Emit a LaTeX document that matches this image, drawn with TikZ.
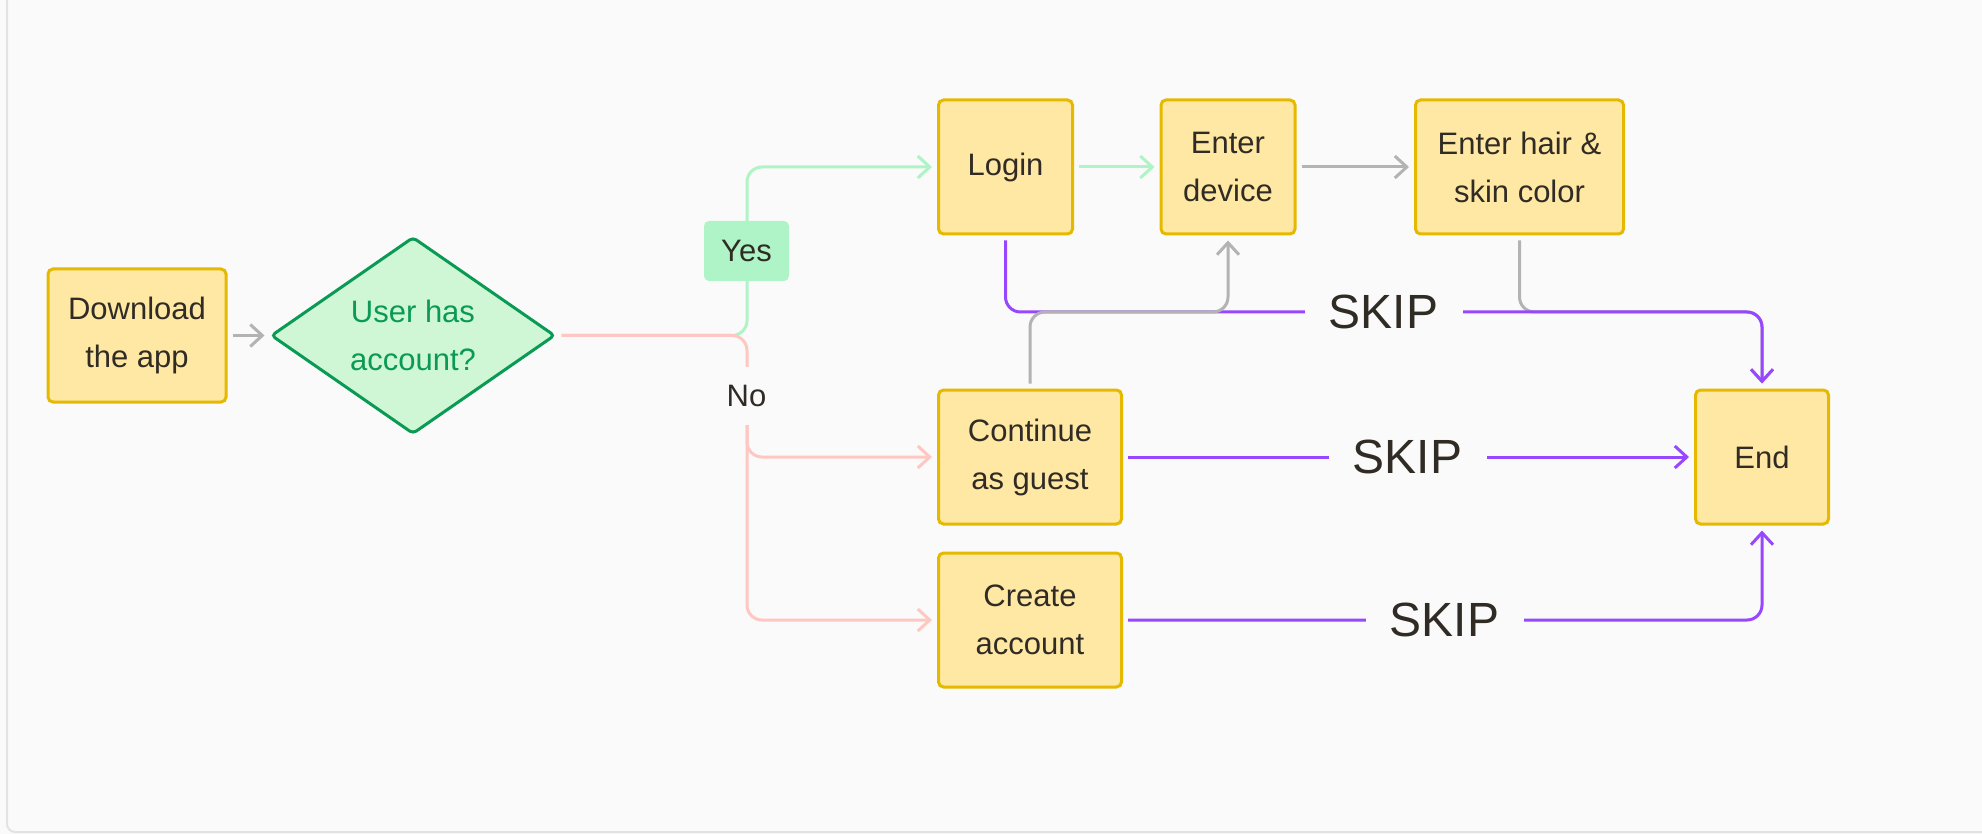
\documentclass[tikz,border=0pt]{standalone}
\usepackage{fontspec}
\setmainfont{Liberation Sans}
\usetikzlibrary{arrows.meta,shapes.geometric}
\definecolor{bg}{HTML}{FAFAFA}
\definecolor{framec}{HTML}{E3E3E3}
\definecolor{boxfill}{HTML}{FFE8A3}
\definecolor{boxline}{HTML}{E5B900}
\definecolor{txt}{HTML}{302C25}
\definecolor{dfill}{HTML}{CFF7D6}
\definecolor{dline}{HTML}{0A9A54}
\definecolor{yesfill}{HTML}{AFF4C6}
\definecolor{cgreen}{HTML}{AFF4C6}
\definecolor{cpink}{HTML}{FFC7C2}
\definecolor{cgray}{HTML}{B3B3B3}
\definecolor{cpurple}{HTML}{9747FF}
\begin{document}
\begin{tikzpicture}[x=0.5pt,y=-0.5pt,
  boxtext/.style={font=\fontsize{15.5}{24}\selectfont, align=center},
  box/.style={boxtext, draw=boxline, fill=boxfill, line width=1.5pt, rounded corners=2.5pt, text=txt, inner sep=0pt, minimum height=67pt},
  decision/.style={boxtext, diamond, aspect=1.435, draw=dline, fill=dfill, line width=1.5pt, rounded corners=2pt, text=dline, inner sep=0pt, minimum width=142pt, minimum height=98.5pt},
  conn/.style={line width=1.5pt, rounded corners=7.5pt, -{Straight Barb[length=6pt,width=11pt]}, shorten >=2.5pt, shorten <=2.5pt},
  plain/.style={line width=1.5pt, rounded corners=7.5pt, shorten <=2.5pt},
  skiplabel/.style={font=\fontsize{24}{28}\selectfont, text=txt, fill=bg, inner sep=0pt, minimum width=79pt, minimum height=22pt},
]
\useasboundingbox (0,0) rectangle (1982,834);
\fill[bg] (0,0) rectangle (1982,834);
\begin{scope}
  \clip (0,0) rectangle (1982,834);
  \draw[framec, line width=1pt, rounded corners=4pt] (7,-30) rectangle (2030,832);
\end{scope}

% nodes
\node[box, minimum width=89pt, minimum height=66.5pt] (dl) at (137,335.5) {Download\\the app};
\node[decision] (dia) at (413,335.5) {User has\\account?};
\node[box, minimum width=67pt] (login) at (1005.5,167) {Login};
\node[box, minimum width=67pt] (dev) at (1228,167) {Enter\\device};
\node[box, minimum width=104pt] (hair) at (1519.5,167) {Enter hair \&\\skin color};
\node[box, minimum width=91.5pt] (cont) at (1030,457) {Continue\\as guest};
\node[box, minimum width=91.5pt] (create) at (1030,620) {Create\\account};
\node[box, minimum width=66.5pt] (end) at (1762,457) {End};

% connectors
\draw[conn, cgray] (dl) -- (dia);
\draw[conn, cgreen] (dia.east) -- (747,335.5) -- (747,167) -- (login.west);
\draw[conn, cpink] (dia.east) -- (747,335.5) -- (747,620) -- (create.west);
\draw[conn, cpink] (747,400) -- (747,457) -- (cont.west);
\draw[conn, cgreen] (login) -- (dev);
\draw[conn, cgray] (dev) -- (hair);
\draw[conn, cgray] (hair.south) -- (1519.5,312) -- (1762,312) -- (end.north);
\draw[conn, cpurple] (login.south) -- (1005.5,312) -- (1762,312) -- (end.north);
\draw[conn, cgray] (cont.north) -- (1030,312) -- (1228,312) -- (dev.south);
\draw[conn, cpurple] (cont) -- (end);
\draw[conn, cpurple] (create.east) -- (1762,620) -- (end.south);

% labels
\node[boxtext, text=txt, fill=yesfill, rounded corners=2.5pt, inner sep=0pt, minimum width=42.5pt, minimum height=30pt] (yes) at (746.5,251) {Yes};
\node[boxtext, text=txt, fill=bg, inner xsep=2pt, inner ysep=0pt, minimum height=29pt] (no) at (746.5,396) {No};
\node[skiplabel] (s1) at (1383.5,312) {SKIP};
\node[skiplabel] (s2) at (1407.5,457) {SKIP};
\node[skiplabel] (s3) at (1444.5,620) {SKIP};
\end{tikzpicture}
\end{document}
